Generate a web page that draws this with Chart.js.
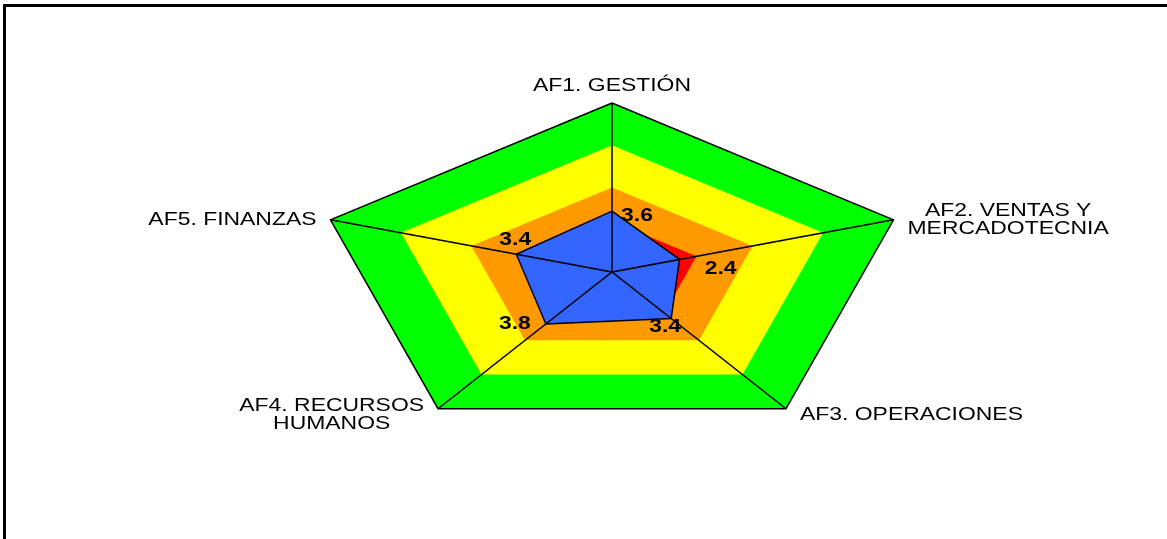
<!DOCTYPE html>
<html>
<head>
<meta charset="utf-8">
<script src="https://cdn.jsdelivr.net/npm/chart.js@4.4.1/dist/chart.umd.min.js"></script>
<style>
  html, body { margin: 0; padding: 0; background: #fff; }
  #chartContainer { position: relative; width: 1167px; height: 539px; }
</style>
</head>
<body>
<div id="chartContainer"><canvas id="main-chart"></canvas></div>
<script>
// ejes del radar (cada uno puede ocupar dos lineas)
const categories = [
  ['AF1. GESTIÓN'],
  ['AF2. VENTAS Y', 'MERCADOTECNIA'],
  ['AF3. OPERACIONES'],
  ['AF4. RECURSOS', 'HUMANOS'],
  ['AF5. FINANZAS']
]
const scores = [3.6, 2.4, 3.4, 3.8, 3.4]
const scoreLabels = ['3.6', '2.4', '3.4', '3.8', '3.4']

// bandas de fondo
const redBand = [3, 3, 3, 3, 3]
const orangeBand = [5, 5, 5, 5, 5]
const yellowBand = [7.5, 7.5, 7.5, 7.5, 7.5]
const greenBand = [10, 10, 10, 10, 10]
const scaleMax = 10

// desplazamiento de las etiquetas de datos (px)
const labelOffsets = [[25, 5], [41, 10], [-6, 9], [-31, 0], [-1, -14]]
// el texto del original sale ensanchado
const stretch = 1.31

function angle(i) {
  return 2 * Math.PI * i / categories.length
}

// pasa valores polares a puntos x/y, cerrando el poligono
function toXY(values) {
  let pts = values.map((v, i) => ({ x: v * Math.sin(angle(i)), y: v * Math.cos(angle(i)) }))
  pts.push(pts[0])
  return pts
}

function spokes() {
  let pts = []
  categories.forEach((c, i) => {
    pts.push({ x: 0, y: 0 })
    pts.push({ x: scaleMax * Math.sin(angle(i)), y: scaleMax * Math.cos(angle(i)) })
  })
  pts.push({ x: 0, y: 0 })
  return pts
}

function band(label, values, color, border) {
  return {
    label: label,
    data: toXY(values),
    showLine: true,
    fill: 'shape',
    backgroundColor: color,
    borderColor: border ? '#000' : 'rgba(0,0,0,0)',
    borderWidth: border ? 1.5 : 1,
    pointRadius: 0,
    clip: false
  }
}

function wideText(ctx, text, x, y) {
  ctx.save()
  ctx.translate(x, y)
  ctx.scale(stretch, 1)
  ctx.fillText(text, 0, 0)
  ctx.restore()
}

const framePlugin = {
  id: 'frame',
  beforeDraw(chart) {
    let ctx = chart.ctx
    ctx.save()
    ctx.fillStyle = '#000'
    ctx.fillRect(3, 4, chart.width - 3, 3)
    ctx.fillRect(3, 4, 3, chart.height - 4)
    ctx.restore()
  }
}

const textPlugin = {
  id: 'radarText',
  afterDraw(chart) {
    let ctx = chart.ctx
    let xs = chart.scales.x
    let ys = chart.scales.y
    ctx.save()
    ctx.fillStyle = '#000'
    ctx.textBaseline = 'middle'
    ctx.textAlign = 'center'

    // nombres de los ejes
    ctx.font = '17.5px "Liberation Sans", Arial, sans-serif'
    let lh = 18
    categories.forEach((lines, i) => {
      let a = angle(i)
      let vx = xs.getPixelForValue(scaleMax * Math.sin(a))
      let vy = ys.getPixelForValue(scaleMax * Math.cos(a))
      let w = Math.max(...lines.map(l => ctx.measureText(l).width)) * stretch
      let s = Math.sin(a)
      let cx, cy
      if (Math.abs(s) < 0.01) {
        cx = vx
        cy = vy - 17 - (lines.length - 1) * lh / 2
      } else {
        cx = vx + Math.sign(s) * (14 + w / 2)
        cy = vy + (Math.cos(a) < 0 ? 6 : 0)
      }
      lines.forEach((l, j) => {
        wideText(ctx, l, cx, cy + (j - (lines.length - 1) / 2) * lh)
      })
    })

    // valores
    ctx.font = 'bold 17.5px "Liberation Sans", Arial, sans-serif'
    scores.forEach((v, i) => {
      let a = angle(i)
      let px = xs.getPixelForValue(v * Math.sin(a))
      let py = ys.getPixelForValue(v * Math.cos(a))
      wideText(ctx, scoreLabels[i], px + labelOffsets[i][0], py + labelOffsets[i][1])
    })
    ctx.restore()
  }
}

let source = document.getElementById('main-chart')
let repChart = new Chart(source, {
  type: 'scatter',
  data: {
    datasets: [
      {
        label: 'ejes',
        data: spokes(),
        showLine: true,
        fill: false,
        borderColor: '#000',
        borderWidth: 1.5,
        pointRadius: 0,
        clip: false
      },
      band('Puntaje', scores, '#3366FF', true),
      band('Crítico', redBand, '#FF0000', false),
      band('Bajo', orangeBand, '#FF9900', false),
      band('Medio', yellowBand, '#FFFF00', false),
      band('Alto', greenBand, '#00FF00', true)
    ]
  },
  options: {
    responsive: true,
    maintainAspectRatio: false,
    animation: false,
    layout: { padding: { left: 316, right: 259, top: 103, bottom: 98 } },
    elements: { line: { tension: 0 } },
    scales: {
      x: { type: 'linear', display: false, min: -scaleMax, max: scaleMax },
      y: { type: 'linear', display: false, min: -scaleMax, max: scaleMax }
    },
    plugins: {
      legend: { display: false },
      tooltip: { enabled: false }
    }
  },
  plugins: [framePlugin, textPlugin]
})
</script>
</body>
</html>
